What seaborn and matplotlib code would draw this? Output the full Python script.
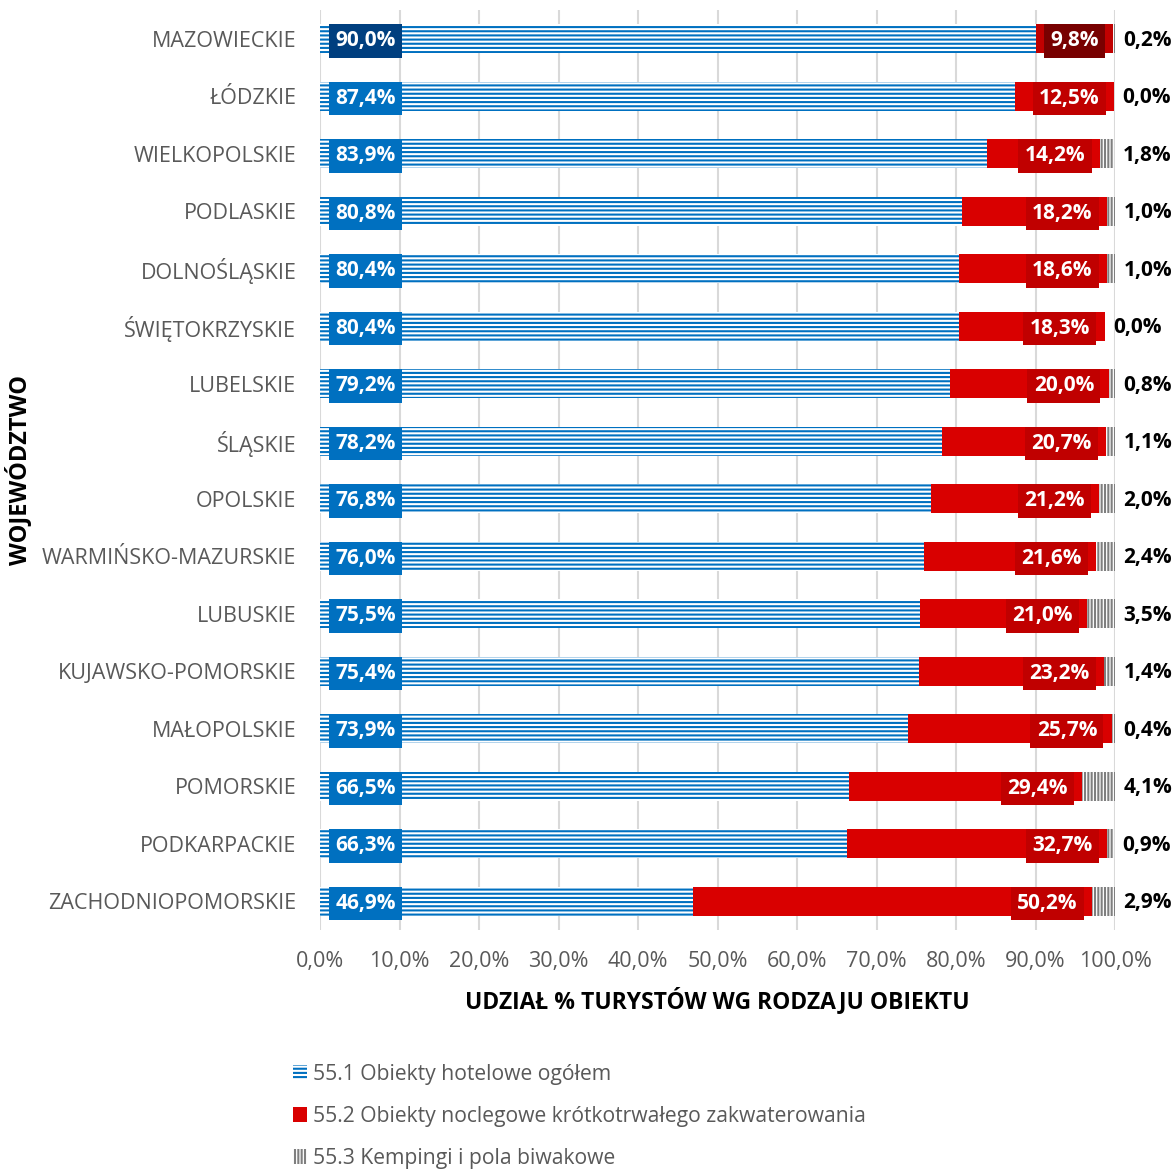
import numpy as np
import pandas as pd
import seaborn as sns
import matplotlib.pyplot as plt
from matplotlib.patches import Patch

sns.set_theme(style="white")
plt.rcParams['font.family'] = ['Open Sans', 'DejaVu Sans']
plt.rcParams['hatch.linewidth'] = 1.5

# data: share of tourists by type of accommodation (%)
regions = ["MAZOWIECKIE", "ŁÓDZKIE", "WIELKOPOLSKIE", "PODLASKIE", "DOLNOŚLĄSKIE",
           "ŚWIĘTOKRZYSKIE", "LUBELSKIE", "ŚLĄSKIE", "OPOLSKIE", "WARMIŃSKO-MAZURSKIE",
           "LUBUSKIE", "KUJAWSKO-POMORSKIE", "MAŁOPOLSKIE", "POMORSKIE", "PODKARPACKIE",
           "ZACHODNIOPOMORSKIE"]
hotel = [90.0, 87.4, 83.9, 80.8, 80.4, 80.4, 79.2, 78.2, 76.8, 76.0, 75.5, 75.4, 73.9, 66.5, 66.3, 46.9]
short_stay = [9.8, 12.5, 14.2, 18.2, 18.6, 18.3, 20.0, 20.7, 21.2, 21.6, 21.0, 23.2, 25.7, 29.4, 32.7, 50.2]
camping = [0.2, 0.0, 1.8, 1.0, 1.0, 0.0, 0.8, 1.1, 2.0, 2.4, 3.5, 1.4, 0.4, 4.1, 0.9, 2.9]
xticks = list(range(0, 101, 10))

df = pd.DataFrame({"region": regions, "hotel": hotel, "short": short_stay, "camp": camping})
df["end_short"] = df["hotel"] + df["short"]
df["end_camp"] = df["end_short"] + df["camp"]

BLUE = "#0070C0"
RED = "#D90000"
GRAY = "#7F7F7F"
TXT = "#595959"
FS = 15.5
VFS = 15

fig = plt.figure(figsize=(11.74, 11.71), dpi=100)
ax = fig.add_axes([320 / 1174, 1 - 930 / 1171, 795 / 1174, 920 / 1171])

# layered bars: total (camping) -> hotel+short -> hotel
n0 = len(ax.patches)
sns.barplot(data=df, x="end_camp", y="region", orient="h", width=0.5, color="white", ax=ax)
for p in ax.patches[n0:]:
    p.set_facecolor("white")
    p.set_edgecolor(GRAY)
    p.set_hatch("|||||")
    p.set_linewidth(0)

n1 = len(ax.patches)
red_pal = ["#C00000"] + [RED] * (len(regions) - 1)
sns.barplot(data=df, x="end_short", y="region", hue="region", palette=red_pal, saturation=1,
            orient="h", width=0.5, legend=False, ax=ax)
for p in ax.patches[n1:]:
    p.set_linewidth(0)

n2 = len(ax.patches)
sns.barplot(data=df, x="hotel", y="region", orient="h", width=0.5, color="white", ax=ax)
for p in ax.patches[n2:]:
    p.set_facecolor("white")
    p.set_edgecolor(BLUE)
    p.set_hatch("----")
    p.set_linewidth(0)

# value labels
for i, row in df.iterrows():
    hot_box = "#003F7F" if i == 0 else BLUE
    red_box = "#780000" if i == 0 else "#C00000"
    ax.annotate(f"{row['hotel']:.1f}%".replace(".", ","), (5.75, i),
                xytext=(0, -1.5), textcoords="offset points", ha="center", va="center",
                fontsize=VFS, fontweight="bold", color="white",
                bbox=dict(boxstyle="square,pad=0.3", fc=hot_box, ec="none"))
    ax.annotate(f"{row['short']:.1f}%".replace(".", ","), (row["end_short"], i),
                xytext=(-10.5, -1.5), textcoords="offset points", ha="right", va="center",
                fontsize=VFS, fontweight="bold", color="white",
                bbox=dict(boxstyle="square,pad=0.3", fc=red_box, ec="none"))
    ax.annotate(f"{row['camp']:.1f}%".replace(".", ","), (row["end_camp"], i),
                xytext=(6, -1), textcoords="offset points", ha="left", va="center",
                fontsize=VFS, fontweight="bold", color="black")

ax.set_xlim(0, 100)
ax.set_ylim(len(regions) - 0.5, -0.5)
ax.set_xticks(xticks)
ax.set_xticklabels([f"{t:.1f}%".replace(".", ",") for t in xticks], color=TXT, fontsize=FS)
ax.tick_params(axis="y", labelsize=FS, labelcolor=TXT, pad=17, length=0)
ax.tick_params(axis="x", pad=15, length=0)
ax.xaxis.grid(True, color="#D9D9D9", linewidth=1.5)
ax.set_axisbelow(True)
for s in ax.spines.values():
    s.set_visible(False)

ax.set_xlabel("UDZIAŁ % TURYSTÓW WG RODZAJU OBIEKTU", fontsize=16.5, fontweight="bold",
              color="black", labelpad=11)
ax.set_ylabel("WOJEWÓDZTWO", fontsize=17, fontweight="bold", color="black")
ax.yaxis.set_label_coords(-288 / 795, 0.5)

handles = [
    Patch(facecolor="white", edgecolor=BLUE, hatch="----", linewidth=0, label="55.1 Obiekty hotelowe ogółem"),
    Patch(facecolor=RED, edgecolor="none", linewidth=0, label="55.2 Obiekty noclegowe krótkotrwałego zakwaterowania"),
    Patch(facecolor="white", edgecolor=GRAY, hatch="|||||", linewidth=0, label="55.3 Kempingi i pola biwakowe"),
]
leg = fig.legend(handles=handles, loc="upper left", bbox_to_anchor=(282 / 1174, 1 - 1053 / 1171),
                 frameon=False, fontsize=15.2, labelcolor=TXT, handlelength=0.7, handleheight=0.7,
                 handletextpad=0.25, labelspacing=1.0, borderpad=0)

fig.savefig("out.png", dpi=100)
